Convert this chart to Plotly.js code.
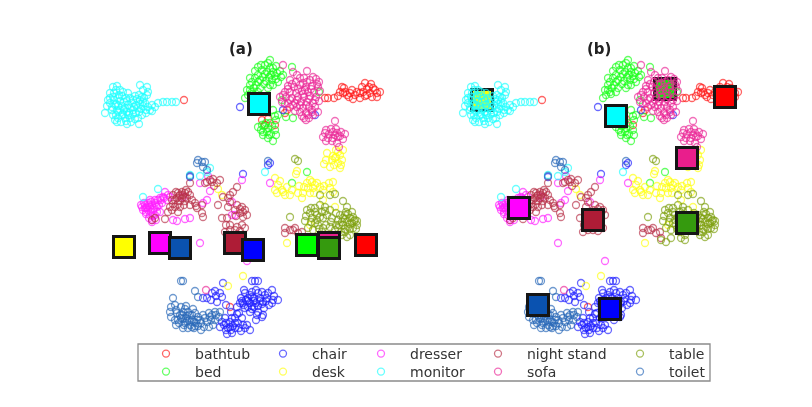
<!DOCTYPE html>
<html>
<head>
<meta charset="utf-8">
<script src="https://cdn.plot.ly/plotly-3.0.1.min.js"></script>
<style>html,body{margin:0;padding:0;background:#fff}#c{width:812px;height:407px;filter:blur(0.7px)}</style>
</head>
<body>
<div id="c"></div>
<script>
const categories = ['bathtub','bed','chair','desk','dresser','monitor','night stand','sofa','table','toilet'];
const pointColors = ['#ff1a1a','#1aff1a','#2020ff','#ffff10','#ff20ff','#20ffff','#b8324a','#ea2a98','#7fa010','#2a68b8'];
const centroidColors = ['#ff0000','#00ff00','#0000ff','#ffff00','#ff00ff','#00ffff','#ae1c36','#e91e8c','#359a0e','#0a52b0'];

const bathtub = [[342,87],[340,92],[345,92],[350,93],[353,99],[357,92],[360,93],[360,98],[365,83],[367,89],[370,93],[373,88],[377,93],[367,95],[377,97],[372,97],[343,93],[347,95],[325,98],[328,98],[334,98],[184,100],[262,120],[275,125],[287,110],[265,125],[230,307],[268,119],[285,113],[344,88],[349,97],[355,95],[363,92],[365,96],[369,87],[375,90],[371,84],[338,96],[352,90],[362,87],[380,92]];
const bed = [[270,60],[265,65],[276,66],[258,67],[270,68],[262,70],[267,72],[273,72],[280,71],[258,75],[263,77],[269,77],[275,76],[281,77],[266,81],[272,80],[278,82],[252,82],[250,85],[256,85],[254,88],[250,90],[260,88],[273,85],[268,88],[245,98],[273,110],[275,116],[276,120],[278,115],[286,117],[293,118],[262,125],[268,128],[272,126],[261,130],[267,132],[275,130],[271,134],[263,135],[273,141],[268,138],[264,126],[258,127],[292,67],[307,172],[292,183],[319,92],[282,100],[248,95],[252,92],[258,92],[268,63],[261,65],[273,68],[255,71],[265,74],[271,75],[277,73],[260,80],[255,78],[264,84],[270,85],[276,79],[283,75],[250,78],[258,82],[253,94],[247,90],[270,123],[266,123],[276,135],[263,132],[269,135]];
const chair = [[223,283],[215,291],[220,293],[207,298],[211,300],[217,302],[203,298],[252,281],[258,281],[255,281],[272,290],[252,292],[245,293],[258,293],[265,295],[241,298],[248,298],[254,298],[260,298],[267,298],[278,300],[273,300],[243,303],[250,303],[256,303],[262,304],[269,305],[237,307],[245,308],[231,312],[239,313],[250,312],[258,312],[263,315],[256,320],[262,317],[235,318],[230,322],[235,323],[224,325],[230,327],[235,328],[220,327],[226,330],[231,330],[227,334],[239,328],[245,328],[250,330],[243,325],[232,333],[246,300],[252,297],[263,302],[240,303],[248,307],[254,307],[225,318],[268,165],[270,163],[243,174],[190,177],[240,107],[283,110],[315,115],[244,290],[250,295],[256,290],[262,292],[268,293],[274,296],[242,301],[248,301],[254,301],[260,301],[266,301],[272,303],[244,305],[252,306],[258,306],[264,308],[252,309],[257,315],[242,318],[237,314],[232,318],[226,323],[233,326],[238,323],[228,328],[222,322],[247,325],[241,331],[216,296],[222,297],[212,293],[226,305]];
const desk = [[335,158],[327,153],[324,164],[332,160],[336,157],[340,155],[342,160],[338,163],[334,165],[330,167],[341,165],[338,152],[343,150],[297,171],[296,174],[275,178],[278,185],[275,190],[287,187],[285,195],[290,195],[298,193],[302,198],[307,183],[312,182],[317,183],[320,187],[308,188],[313,188],[323,190],[333,182],[330,188],[333,192],[303,193],[314,193],[335,207],[287,243],[222,195],[218,189],[243,276],[228,286],[310,225],[323,200],[282,190],[310,180],[280,181],[326,160],[336,150],[340,168],[333,156],[283,192],[292,190],[299,186],[304,187],[315,185],[324,186],[329,183],[310,193],[277,193]];
const dresser = [[142,207],[145,205],[148,203],[152,205],[143,210],[148,210],[153,210],[157,207],[158,200],[163,197],[165,192],[170,197],[150,215],[155,215],[160,212],[162,203],[167,200],[152,220],[173,220],[177,221],[185,219],[190,218],[200,183],[208,176],[210,191],[207,200],[203,203],[200,243],[247,261],[242,180],[270,183],[232,202],[232,215],[235,215],[145,208],[147,207],[150,207],[155,200],[160,198],[183,197],[146,212],[156,205],[150,200],[141,205],[144,203],[146,208],[149,205],[151,212],[154,208],[146,214],[149,218],[153,216],[157,212],[159,205],[161,200],[164,198],[168,195],[151,202],[155,203],[152,222],[156,220]];
const monitor = [[105,113],[108,100],[110,103],[112,107],[113,97],[114,100],[116,104],[118,98],[120,101],[122,106],[117,110],[112,110],[120,110],[123,114],[116,115],[115,120],[117,122],[121,122],[127,124],[139,124],[125,118],[130,118],[135,119],[122,115],[127,112],[130,108],[133,110],[136,113],[139,112],[141,109],[128,105],[132,103],[136,105],[140,104],[130,98],[133,100],[137,99],[140,100],[143,102],[139,95],[113,87],[120,90],[110,93],[140,85],[147,87],[148,92],[143,90],[147,95],[142,97],[145,103],[148,107],[152,105],[146,110],[150,110],[155,107],[158,103],[163,102],[167,102],[172,102],[176,102],[138,118],[133,114],[128,115],[125,108],[118,106],[114,93],[210,168],[200,176],[190,175],[158,189],[143,197],[265,172],[207,172],[115,105],[118,112],[124,102],[126,98],[122,96],[127,101],[119,95],[116,90],[110,98],[107,106],[124,110],[129,113],[134,107],[138,108],[143,106],[131,122],[126,121],[118,118],[123,92],[135,96],[144,98],[128,93],[117,86],[146,113],[152,111],[142,115],[113,115]];
const nightStand = [[190,183],[207,182],[212,182],[217,183],[220,180],[205,183],[173,195],[178,193],[182,192],[185,193],[188,192],[177,198],[182,198],[187,198],[192,200],[170,207],[175,207],[180,207],[168,212],[178,212],[165,219],[155,218],[152,220],[197,208],[202,205],[202,213],[203,217],[195,203],[237,187],[233,192],[230,195],[223,197],[218,205],[230,202],[237,205],[242,207],[245,210],[247,215],[240,213],[235,210],[222,218],[227,218],[243,217],[230,225],[237,227],[242,225],[245,228],[225,232],[230,230],[235,230],[285,228],[290,230],[285,233],[293,230],[295,228],[302,232],[298,233],[303,238],[213,179],[180,195],[185,197],[172,200],[176,192],[179,196],[183,195],[186,190],[190,195],[175,200],[180,201],[185,201],[173,204],[178,204],[184,205],[190,205],[196,206],[172,210],[210,180],[214,186],[228,207],[240,209],[236,216],[243,212],[226,225],[240,231],[228,198]];
const sofa = [[307,71],[283,65],[297,75],[304,78],[290,80],[296,82],[303,83],[310,80],[316,79],[319,82],[288,86],[294,87],[300,85],[306,87],[312,86],[318,87],[285,92],[290,92],[296,93],[302,91],[308,92],[314,92],[320,91],[280,97],[286,97],[292,98],[298,97],[304,97],[310,96],[316,97],[282,102],[288,103],[295,103],[301,102],[307,102],[313,103],[319,101],[290,107],[297,107],[303,108],[309,107],[315,107],[300,112],[306,113],[312,112],[318,112],[304,118],[309,118],[313,115],[306,120],[335,121],[325,133],[329,134],[333,132],[337,133],[341,132],[345,134],[323,137],[328,138],[333,138],[338,137],[343,139],[337,143],[339,147],[332,141],[206,290],[293,72],[300,78],[307,82],[313,77],[292,84],[298,89],[305,90],[311,89],[317,84],[288,89],[283,95],[290,100],[297,100],[303,94],[309,99],[315,100],[285,104],[293,105],[300,105],[306,105],[312,110],[308,115],[302,116],[295,111],[326,130],[331,129],[336,129],[340,136],[326,141],[335,135]];
const table = [[295,159],[298,161],[290,217],[307,210],[305,221],[310,213],[315,208],[320,205],[325,207],[317,215],[322,212],[327,215],[332,218],[320,195],[335,194],[330,195],[343,201],[347,207],[352,212],[353,217],[340,215],[345,215],[350,218],[338,220],[342,222],[347,222],[352,223],[357,225],[343,225],[348,227],[353,228],[345,232],[350,235],[338,228],[330,227],[323,228],[318,225],[313,230],[308,228],[303,240],[308,242],[327,235],[322,232],[335,230],[347,237],[317,220],[323,218],[312,218],[346,212],[350,224],[341,232],[355,220],[311,208],[315,212],[320,217],[325,211],[330,210],[336,213],[343,218],[348,214],[354,221],[339,225],[345,219],[350,229],[356,229],[336,225],[331,222],[319,229],[326,225],[315,223],[311,222],[306,216],[345,229],[357,221],[342,235],[313,238],[327,240],[323,238]];
const toilet = [[198,160],[197,163],[202,162],[205,162],[203,167],[207,170],[190,176],[268,161],[181,281],[173,298],[195,291],[198,297],[171,307],[175,305],[181,307],[186,306],[193,309],[171,317],[177,313],[183,312],[188,312],[192,315],[175,320],[181,318],[186,318],[192,320],[198,317],[203,315],[209,313],[215,312],[220,312],[179,323],[185,323],[190,325],[196,323],[201,323],[207,322],[211,320],[216,315],[183,328],[188,328],[194,328],[201,330],[209,327],[213,325],[215,320],[182,315],[187,321],[195,326],[183,281],[176,310],[180,315],[185,309],[190,315],[195,313],[200,320],[205,318],[210,317],[178,320],[184,325],[189,320],[194,322],[198,326],[204,327],[176,325],[170,312],[183,319],[187,316],[192,327],[197,320],[212,315],[219,317]];
const seriesValues = [bathtub,bed,chair,desk,dresser,monitor,nightStand,sofa,table,toilet];

// centroids, panel (a) then panel (b), in category order
const centroidAX = [366,307,253,124,160,259,235,329,329,180];
const centroidAY = [245,245,250,247,243,104,243,243,248,248];
const centroidBX = [367,307,252,124,161,258,235,329,329,180];
const centroidBY = [97,89,309,100,208,116,220,158,223,305];

// layering of squares (index into categories)
const orderA = [7,3,4,9,6,2,1,8,0,5];
const orderBunder = [1,3];
const orderBover = [0,2,4,5,6,7,8,9];

const W = 812, H = 407;
const legendColumnPx = [137,254,352,469,611];
const legendRowPx = [338,356];
const pick = (order, arr) => order.map(i => arr[i]);
function squares(order, xs, ys, xa, ya) {
  return {type:'scatter', mode:'markers', xaxis:xa, yaxis:ya, showlegend:false, hoverinfo:'skip',
    x:pick(order,xs), y:pick(order,ys), cliponaxis:false,
    marker:{symbol:'square', size:21, color:pick(order,centroidColors), line:{color:'#151515', width:3}}};
}
function cloud(i, xa, ya, withLegend) {
  return {type:'scatter', mode:'markers', name:categories[i], xaxis:xa, yaxis:ya,
    x:seriesValues[i].map(p=>p[0]), y:seriesValues[i].map(p=>p[1]), cliponaxis:false,
    showlegend:withLegend, legend:i===0?'legend':'legend'+(i+1),
    marker:{symbol:'circle-open', size:7, opacity:0.68, color:pointColors[i], line:{width:1.3, color:pointColors[i]}}};
}
const traces = [];
categories.forEach((c,i)=>traces.push(cloud(i,'x','y',true)));
traces.push(squares(orderA,centroidAX,centroidAY,'x','y'));
traces.push(squares(orderBunder,centroidBX,centroidBY,'x2','y2'));
categories.forEach((c,i)=>traces.push(cloud(i,'x2','y2',false)));
traces.push(squares(orderBover,centroidBX,centroidBY,'x2','y2'));

const hidden = {showgrid:false, zeroline:false, showticklabels:false, ticks:'', showline:false};
const legendFont = {family:'DejaVu Sans', size:14, color:'#333'};
const leg = i => ({x:legendColumnPx[Math.floor(i/2)]/W, xanchor:'left', y:1-legendRowPx[i%2]/H, yanchor:'top',
  bgcolor:'rgba(0,0,0,0)', borderwidth:0, font:legendFont, itemwidth:48, itemclick:false, itemdoubleclick:false});
const layout = {
  width:W, height:H, margin:{l:0,r:0,t:0,b:0}, paper_bgcolor:'#fff', plot_bgcolor:'#fff',
  xaxis:{...hidden, domain:[90/W,400/W], range:[90,400]},
  yaxis:{...hidden, domain:[0,1], range:[H,0]},
  xaxis2:{...hidden, domain:[448/W,758/W], range:[90,400]},
  yaxis2:{...hidden, domain:[0,1], range:[H,0], anchor:'x2'},
  annotations:[
    {text:'<b>(a)</b>', xref:'paper', yref:'paper', x:241/W, y:1-49/H, xanchor:'center', yanchor:'middle', showarrow:false, font:{family:'DejaVu Sans', size:15, color:'#222'}},
    {text:'<b>(b)</b>', xref:'paper', yref:'paper', x:599/W, y:1-49/H, xanchor:'center', yanchor:'middle', showarrow:false, font:{family:'DejaVu Sans', size:15, color:'#222'}}
  ],
  shapes:[{type:'rect', xref:'paper', yref:'paper', x0:138/W, x1:710/W, y0:1-381/H, y1:1-344/H, line:{color:'#8a8a8a', width:1.3}, layer:'below'}]
};
categories.forEach((c,i)=>{ layout[i===0?'legend':'legend'+(i+1)] = leg(i); });
Plotly.newPlot('c', traces, layout, {displayModeBar:false});
</script>
</body>
</html>
